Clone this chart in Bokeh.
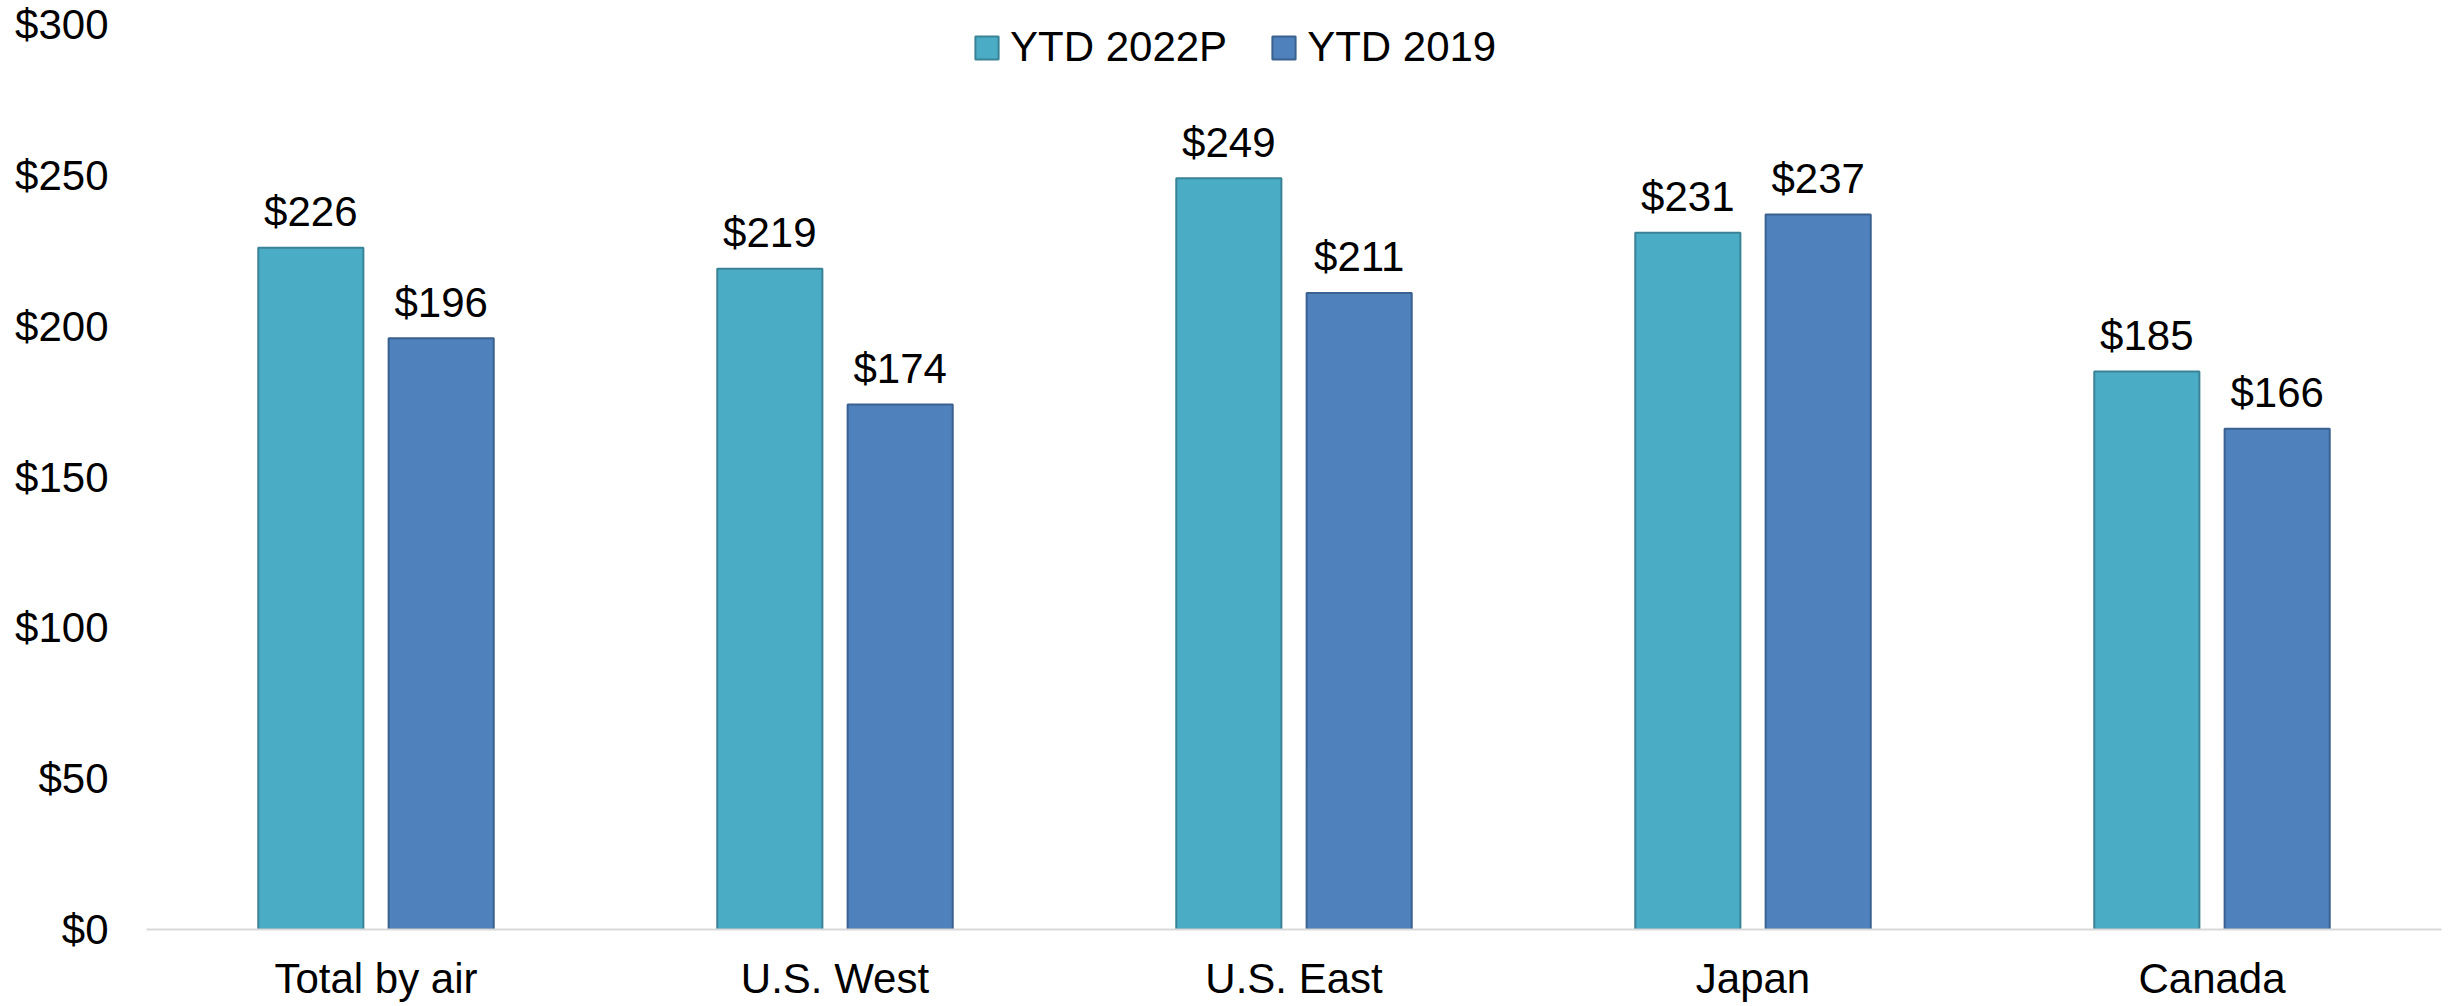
from bokeh.plotting import figure
from bokeh.models import (ColumnDataSource, FactorRange, Range1d, NumeralTickFormatter,
                          FixedTicker, Legend, LegendItem)
from bokeh.core.properties import value
from bokeh.transform import dodge
from bokeh.embed import file_html
from bokeh.resources import INLINE

categories = ["Total by air", "U.S. West", "U.S. East", "Japan", "Canada"]
ytd_2022p = [226, 219, 249, 231, 185]
ytd_2019 = [196, 174, 211, 237, 166]
series_names = ["YTD 2022P", "YTD 2019"]
y_ticks = [0, 50, 100, 150, 200, 250, 300]

FONT = "Liberation Sans"
FS = "42px"
C1_FILL, C1_LINE = "#4BACC6", "#3A8397"
C2_FILL, C2_LINE = "#4F81BD", "#3B6190"

src = ColumnDataSource(dict(
    cat=categories,
    a=ytd_2022p,
    b=ytd_2019,
    la=["$%d" % v for v in ytd_2022p],
    lb=["$%d" % v for v in ytd_2019],
))

p = figure(x_range=FactorRange(*categories, range_padding=0), y_range=Range1d(0, 300),
           width=2448, height=1004, output_backend="svg", toolbar_location=None,
           min_border_left=146, min_border_right=7, min_border_top=24, min_border_bottom=72)
p.outline_line_color = None
p.xgrid.visible = False
p.ygrid.visible = False

off = 0.142
w = 0.229
r1 = p.vbar(x=dodge("cat", -off, range=p.x_range), top="a", width=w, source=src,
            fill_color=C1_FILL, line_color=C1_LINE, line_width=2)
r2 = p.vbar(x=dodge("cat", off, range=p.x_range), top="b", width=w, source=src,
            fill_color=C2_FILL, line_color=C2_LINE, line_width=2)

for lab, col, dx in (("la", "a", -off), ("lb", "b", off)):
    p.text(x=dodge("cat", dx, range=p.x_range), y=col, text=lab, source=src,
           text_align="center", text_baseline="middle", y_offset=-36,
           text_font_size=FS, text_font=value(FONT), text_color="black")

# y axis
p.yaxis.ticker = FixedTicker(ticks=y_ticks)
p.yaxis.formatter = NumeralTickFormatter(format="$0")
p.yaxis.axis_line_color = None
p.yaxis.major_tick_line_color = None
p.yaxis.minor_tick_line_color = None
p.yaxis.major_tick_out = 0
p.yaxis.major_label_standoff = 38
p.yaxis.major_label_text_font = FONT
p.yaxis.major_label_text_font_size = FS
p.yaxis.major_label_text_color = "black"

# x axis
p.xaxis.axis_line_color = "#D9D9D9"
p.xaxis.axis_line_width = 2
p.xaxis.major_tick_line_color = None
p.xaxis.major_tick_out = 0
p.xaxis.major_label_standoff = 25
p.xaxis.major_label_text_font = FONT
p.xaxis.major_label_text_font_size = FS
p.xaxis.major_label_text_color = "black"

legend = Legend(items=[LegendItem(label=series_names[0], renderers=[r1]),
                       LegendItem(label=series_names[1], renderers=[r2])],
                orientation="horizontal", location=(826, 858),
                padding=0, margin=0, spacing=42, label_standoff=9,
                glyph_width=29, glyph_height=29,
                border_line_color=None, background_fill_alpha=0,
                label_text_font=FONT, label_text_font_size=FS, label_text_color="black")
p.add_layout(legend)

open("out.html", "w").write(file_html(p, INLINE))
